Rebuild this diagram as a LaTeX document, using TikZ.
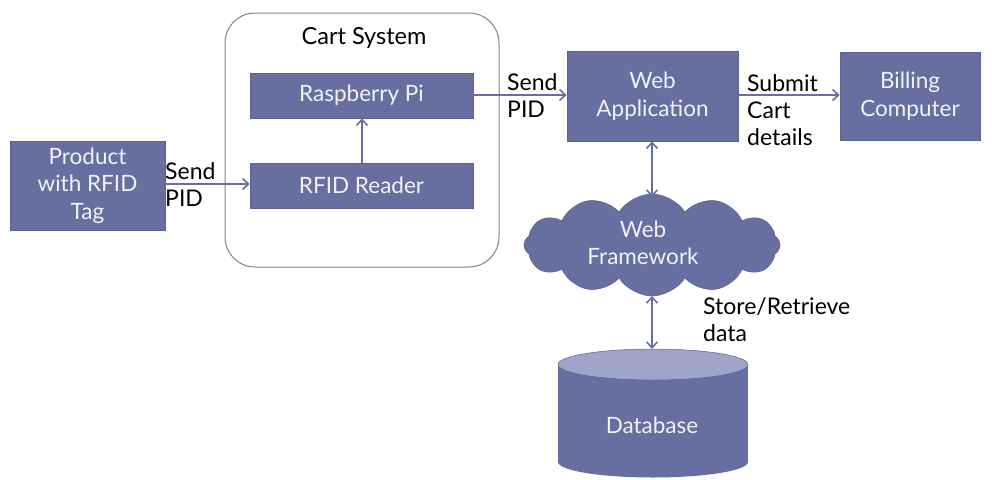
\documentclass[tikz,border=0pt]{standalone}
\usepackage{fontspec}
\setmainfont{Lato}
\usetikzlibrary{shapes.symbols,arrows.meta}
\definecolor{boxc}{HTML}{676FA0}
\definecolor{boxedge}{HTML}{5A6290}
\definecolor{topc}{HTML}{9EA5C8}
\definecolor{cartc}{HTML}{7C8098}
\definecolor{txtc}{HTML}{F2F2F6}
\tikzset{
  box/.style={fill=boxc,draw=boxedge,line width=0.6pt,text=txtc,align=center,inner sep=0pt,font=\fontsize{22.5}{27.5}\selectfont},
  lbl/.style={text=black,align=left,inner sep=0pt,anchor=west,font=\fontsize{23}{27}\selectfont},
  conn/.style={draw=boxc,line width=2pt,-{Straight Barb[length=6pt,width=11pt,line width=1.6pt]}},
  dconn/.style={draw=boxc,line width=2pt,{Straight Barb[length=6pt,width=11pt,line width=1.6pt]}-{Straight Barb[length=6pt,width=11pt,line width=1.6pt]}}
}
\begin{document}
\begin{tikzpicture}[x=1pt,y=-1pt]
\useasboundingbox (0,0) rectangle (992,479);
% cart system container
\node[draw=cartc,line width=1pt,rounded corners=30pt,minimum width=274pt,minimum height=254pt,inner sep=0pt] (cart) at (362,140) {};
\node[text=black,font=\fontsize{23.5}{27}\selectfont,inner sep=0pt] (carttitle) at (364,38) {Cart System};
\node[box,minimum width=155pt,minimum height=89pt] (prod) at (87.5,185.5) {Product\\with RFID\\Tag};
\node[box,minimum width=223pt,minimum height=45pt] (rpi) at (361.5,95.5) {Raspberry Pi};
\node[box,minimum width=223pt,minimum height=45pt] (rfid) at (361.5,185.5) {RFID Reader};
\node[box,minimum width=171pt,minimum height=90pt] (web) at (652.5,96) {Web\\Application};
\node[box,minimum width=140pt,minimum height=88pt] (bill) at (910,96) {Billing\\Computer};
% cloud
\node[cloud,cloud puffs=12,cloud puff arc=115,aspect=2.5,fill=boxc,draw=boxedge,line width=0.6pt,minimum width=256pt,minimum height=102pt,inner sep=0pt] (cloud) at (652,245) {};
\node[text=txtc,align=center,font=\fontsize{22.5}{27.5}\selectfont,inner sep=0pt] (cloudtxt) at (643,243) {Web\\Framework};
% database cylinder
\fill[boxc] (558,364.5) rectangle (748,462);
\fill[boxc] (653,462) ellipse [x radius=95pt,y radius=15.5pt];
\fill[topc] (653,364.5) ellipse [x radius=95pt,y radius=15.5pt];
\draw[boxedge,line width=0.5pt] (653,364.5) ellipse [x radius=95pt,y radius=15.5pt];
\coordinate (dbtop) at (652,349);
\node[text=txtc,font=\fontsize{22.5}{27}\selectfont,inner sep=0pt] (db) at (652,425) {Database};
% connectors
\draw[conn] (prod.east |- 0,184) -- (rfid.west |- 0,184);
\draw[conn] (rfid.north -| 362,0) -- (rpi.south -| 362,0);
\draw[conn] (rpi.east |- 0,95) -- (web.west |- 0,95);
\draw[conn] (web.east |- 0,95) -- (bill.west |- 0,95);
\draw[dconn] (web.south -| 652,0) -- (652,197);
\draw[dconn] (652,296) -- (dbtop);
% labels
\node[lbl] (l1) at (165,185) {Send\\PID};
\node[lbl] (l2) at (507,96) {Send\\PID};
\node[lbl] (l3) at (747,110) {Submit\\Cart\\details};
\node[lbl] (l4) at (703,320) {Store/Retrieve\\data};
\end{tikzpicture}
\end{document}
